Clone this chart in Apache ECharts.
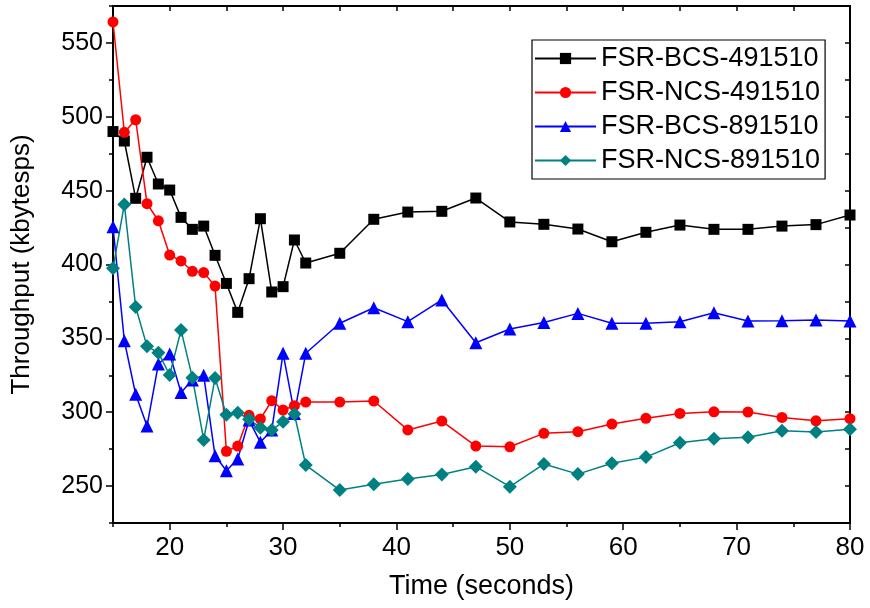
<!DOCTYPE html>
<html><head><meta charset="utf-8">
<script src="https://cdn.jsdelivr.net/npm/echarts@6/dist/echarts.min.js"></script>
<style>html,body{margin:0;padding:0;background:#fff}#c{width:870px;height:608px}</style>
</head><body><div id="c"></div>
<script>
const times = [15,16,17,18,19,20,21,22,23,24,25,26,27,28,29,30,31,32,35,38,41,44,47,50,53,56,59,62,65,68,71,74,77,80];
const bcs491510 = [490,483.6,444.8,472.6,454.5,450.4,431.9,423.8,426,406.2,387.2,367.6,390.4,431,381.4,385,416.6,401,407.6,430.6,435.5,436,445,428.8,427.2,424,415.4,421.8,426.7,423.8,423.8,426,427,433.5];
const ncs491510 = [564.2,489.5,498,441.2,429.6,406.4,402.4,395.4,394.5,385.4,273.5,277.1,297.9,295.4,307.8,301.5,304.4,306.9,306.9,307.6,288,294,277.1,276.6,285.7,286.8,292,295.9,299.2,300.3,300.1,296.5,294.2,295.6];
const bcs891510 = [425.6,348.4,312.1,290.6,332.6,339.4,313.4,321.8,325,270.5,260.4,268.3,294.7,279.6,287.9,339.9,299.2,339.9,360.2,370.7,361.3,376,347,356.3,360.8,366.9,360.2,360.2,361.3,367.3,361.7,362,362.4,361.7];
const ncs891510 = [397.4,440.7,371.2,344.6,340.3,325.2,355.6,323.4,281.2,323.1,298.3,299.7,295.2,289.5,287.9,293.6,298.8,264.2,247.3,251.2,254.8,257.9,263.1,249.6,264.9,258.1,265.4,269.6,279.3,282,283,287.5,286.6,288.4];
const seriesNames = ['FSR-BCS-491510','FSR-NCS-491510','FSR-BCS-891510','FSR-NCS-891510'];
const xMajor = [20,30,40,50,60,70,80];
const xMinor = [15,25,35,45,55,65,75];
const xAll = [15,20,25,30,35,40,45,50,55,60,65,70,75,80];
const yMajor = [250,300,350,400,450,500,550];
const yMinor = [225,275,325,375,425,475,525,575];
const yAll = [225,250,275,300,325,350,375,400,425,450,475,500,525,550,575];

const FONT = 'Liberation Sans, Arial, sans-serif';
const chart = echarts.init(document.getElementById('c'), null, {renderer:'canvas'});
const zip = arr => times.map((t,i)=>[t,arr[i]]);
const axLine = {show:true, lineStyle:{color:'#000', width:2}};
const X = {min:15, max:80, splitLine:{show:false}};
const Y = {min:225, max:575, splitLine:{show:false}};
const colors = ['#000000','#ff0000','#0000ff','#008080'];
const symbols = ['rect','circle','triangle','diamond'];
const sizes = [11,11,13,14];
const datas = [bcs491510, ncs491510, bcs891510, ncs891510];

chart.setOption({
  animation:false,
  backgroundColor:'#fff',
  grid:{left:113, right:20, top:6, bottom:85, containLabel:false},
  legend:{
    orient:'vertical', left:532, top:40,
    backgroundColor:'#fff', borderColor:'#000', borderWidth:1.2,
    padding:[5,5,5,2], itemGap:7, itemWidth:61, itemHeight:14,
    textStyle:{fontFamily:FONT, fontSize:27, color:'#000'},
    data:seriesNames
  },
  xAxis:[
    Object.assign({type:'value', position:'bottom', axisLine:axLine,
      axisTick:{show:true, inside:false, length:7, lineStyle:{color:'#000', width:1.5}, customValues:xMajor},
      axisLabel:{show:true, customValues:xMajor, fontFamily:FONT, fontSize:26, color:'#000', margin:12},
      name:'Time (seconds)', nameLocation:'middle', nameGap:50,
      nameTextStyle:{fontFamily:FONT, fontSize:27, color:'#000'}}, X),
    Object.assign({type:'value', position:'bottom', axisLine:{show:false},
      axisTick:{show:true, inside:false, length:4, lineStyle:{color:'#000', width:1.5}, customValues:xMinor},
      axisLabel:{show:false}}, X),
    Object.assign({type:'value', position:'top', axisLine:axLine,
      axisTick:{show:true, inside:true, length:5, lineStyle:{color:'#000', width:1.5}, customValues:xAll},
      axisLabel:{show:false}}, X)
  ],
  yAxis:[
    Object.assign({type:'value', position:'left', axisLine:axLine,
      axisTick:{show:true, inside:false, length:7, lineStyle:{color:'#000', width:1.5}, customValues:yMajor},
      axisLabel:{show:true, customValues:yMajor, fontFamily:FONT, fontSize:25, color:'#000', margin:10},
      name:'Throughput (kbytesps)', nameLocation:'middle', nameGap:78, nameRotate:90,
      nameTextStyle:{fontFamily:FONT, fontSize:26, color:'#000'}}, Y),
    Object.assign({type:'value', position:'left', axisLine:{show:false},
      axisTick:{show:true, inside:false, length:4, lineStyle:{color:'#000', width:1.5}, customValues:yMinor},
      axisLabel:{show:false}}, Y),
    Object.assign({type:'value', position:'right', axisLine:axLine,
      axisTick:{show:true, inside:true, length:5, lineStyle:{color:'#000', width:1.5}, customValues:yAll},
      axisLabel:{show:false}}, Y)
  ],
  series: seriesNames.map((n,i)=>({
    name:n, type:'line', xAxisIndex:0, yAxisIndex:0,
    data:zip(datas[i]), symbol:symbols[i], symbolSize:sizes[i], showAllSymbol:true,
    clip:false,
    lineStyle:{color:colors[i], width:1.5},
    itemStyle:{color:colors[i], borderWidth:0}
  }))
});
</script></body></html>
